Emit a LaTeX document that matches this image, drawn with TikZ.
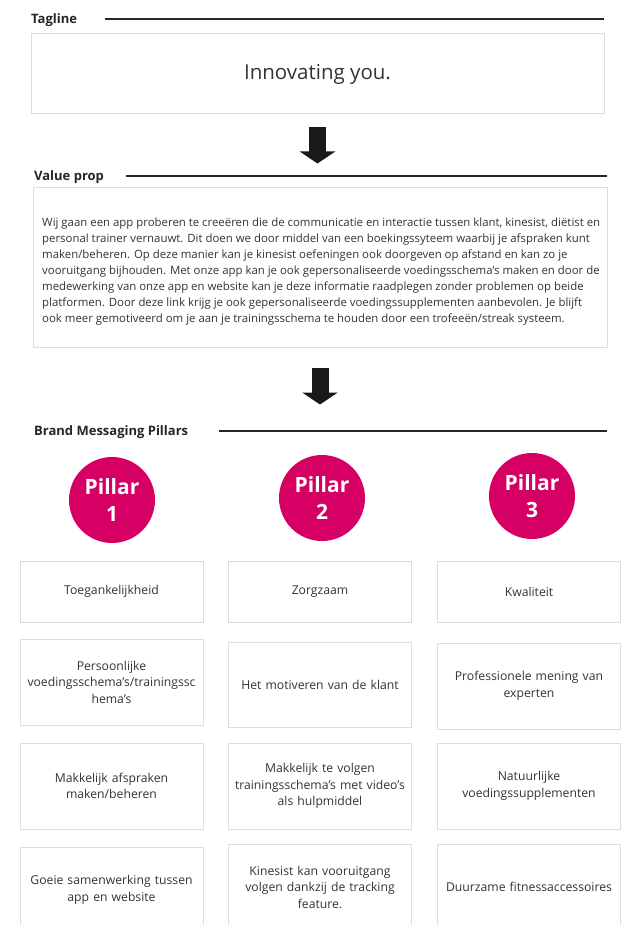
\documentclass[tikz,border=0pt]{standalone}
\usepackage{fontspec}
\setmainfont{Open Sans}
\usepackage{tikz}
\usetikzlibrary{arrows.meta,positioning}
\definecolor{pillarred}{RGB}{214,0,100}
\definecolor{boxgray}{RGB}{221,221,221}
\definecolor{inkgray}{RGB}{51,51,51}

\begin{document}
\begin{tikzpicture}[x=1pt,y=-1pt,
 heading/.style={anchor=west,inner sep=0pt,text=black!85,font=\fontsize{13}{15}\selectfont\bfseries},
 rule/.style={line width=2pt,draw=black!85},
 card/.style={draw=boxgray,line width=1pt,align=center,text width=177pt,inner xsep=3pt,text=inkgray,font=\fontsize{12.2}{16.5}\selectfont},
 pillar/.style={circle,fill=pillarred,minimum size=86pt,inner sep=0pt,align=center,text=white,font=\fontsize{21}{27}\selectfont\bfseries},
 bigarrow/.style={line width=17pt,draw=black!90,-{Triangle[width=35pt,length=12pt]}}]

\useasboundingbox (0,0) rectangle (638,925);
\clip (0,0) rectangle (638,925);

% tagline
\node[heading] (tagline) at (31,20.5) {Tagline};
\draw[rule] (105,19) -- (604,19);
\node[draw=boxgray,line width=1pt,minimum width=573pt,minimum height=80pt,text=inkgray,font=\fontsize{20.5}{24}\selectfont] (tagbox) at (317.5,74) {Innovating you.};

\coordinate[below=13pt of tagbox] (a1start);
\coordinate[below=36pt of a1start] (a1end);
\draw[bigarrow] (a1start) -- (a1end);

% value prop
\node[heading] (valueprop) at (34,177) {Value prop};
\draw[rule] (126,176) -- (607,176);
\node[draw=boxgray,line width=1pt,minimum width=574pt,minimum height=159pt] (valuebox) at (320,267.5) {};
\node[anchor=west,align=left,inner sep=0pt,text=inkgray,font=\fontsize{11.4}{16}\selectfont] (valuetext) at (42,272) {Wij gaan een app proberen te creeëren die de communicatie en interactie tussen klant, kinesist, diëtist en\\
personal trainer vernauwt. Dit doen we door middel van een boekingssyteem waarbij je afspraken kunt\\
maken/beheren. Op deze manier kan je kinesist oefeningen ook doorgeven op afstand en kan zo je\\
vooruitgang bijhouden. Met onze app kan je ook gepersonaliseerde voedingsschema's maken en door de\\
medewerking van onze app en website kan je deze informatie raadplegen zonder problemen op beide\\
platformen. Door deze link krijg je ook gepersonaliseerde voedingssupplementen aanbevolen. Je blijft\\
ook meer gemotiveerd om je aan je trainingsschema te houden door een trofeeën/streak systeem.};

\coordinate[below=20pt of valuebox] (a2start);
\coordinate[below=37pt of a2start] (a2end);
\draw[bigarrow] (a2start) -- (a2end);

% pillars
\node[heading] (pillars) at (34,432.5) {Brand Messaging Pillars};
\draw[rule] (219,431) -- (607,431);
\node[pillar] (p1) at (112,500) {Pillar\\1};
\node[pillar] (p2) at (322,498) {Pillar\\2};
\node[pillar] (p3) at (532,496) {Pillar\\3};

% column 1
\node[card,minimum height=61pt] (c11) at (111.5,591.5) {Toegankelijkheid};
\node[card,minimum height=86pt] (c12) at (111.5,682) {Persoonlijke\\voedingsschema's/trainingssc\\hema's};
\node[card,minimum height=86pt] (c13) at (111.5,786) {Makkelijk afspraken\\maken/beheren};
\node[card,minimum height=86pt] (c14) at (111.5,890) {Goeie samenwerking tussen\\app en website};

% column 2
\node[card,minimum height=61pt] (c21) at (320,591.5) {Zorgzaam};
\node[card,minimum height=85pt] (c22) at (320,684.5) {Het motiveren van de klant};
\node[card,minimum height=86pt] (c23) at (320,786) {Makkelijk te volgen\\trainingsschema's met video's\\als hulpmiddel};
\node[card,minimum height=86pt] (c24) at (320,887) {Kinesist kan vooruitgang\\volgen dankzij de tracking\\feature.};

% column 3
\node[card,minimum height=61pt] (c31) at (529,591.5) {Kwaliteit};
\node[card,minimum height=86pt] (c32) at (529,686) {Professionele mening van\\experten};
\node[card,minimum height=86pt] (c33) at (529,786) {Natuurlijke\\voedingssupplementen};
\node[card,minimum height=86pt] (c34) at (529,887) {Duurzame fitnessaccessoires};

\end{tikzpicture}
\end{document}
